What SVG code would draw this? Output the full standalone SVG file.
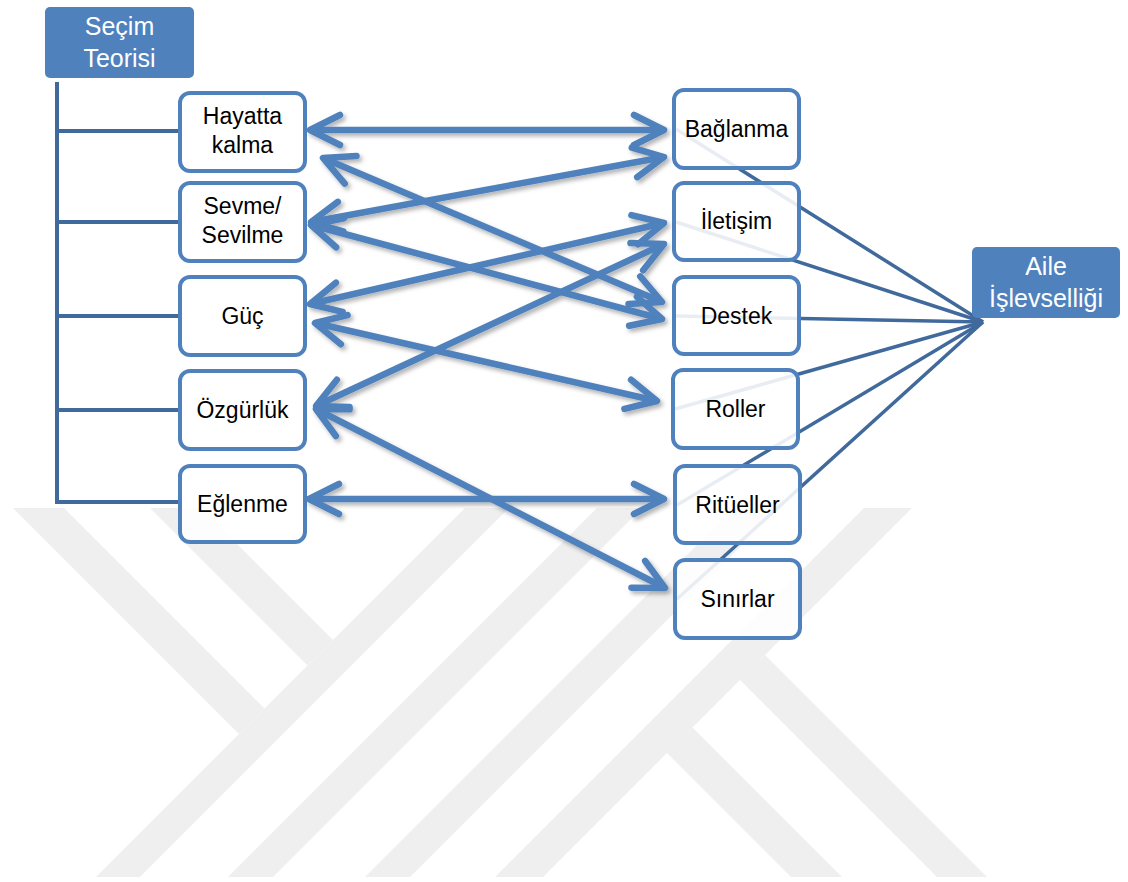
<svg xmlns="http://www.w3.org/2000/svg" width="1128" height="882" viewBox="0 0 1128 882">
  <style>
    .wm { fill: #efefef; }
    .box { fill: #ffffff; fill-opacity: 0.88; stroke: #4f81bd; stroke-width: 4; }
    .hdr { fill: #4f81bd; }
    .t { font-family: "Liberation Sans", Arial, sans-serif; font-size: 23px; fill: #000000; text-anchor: middle; }
    .th { font-family: "Liberation Sans", Arial, sans-serif; font-size: 25px; fill: #ffffff; text-anchor: middle; }
    .tree { fill: none; stroke: #40699c; stroke-width: 4; }
    .link { fill: none; stroke: #40699c; stroke-width: 3.5; }
    .arr { fill: none; stroke: #4f81bd; stroke-width: 6.5; marker-start: url(#chev); marker-end: url(#chev); }
  </style>
  <defs>
    <marker id="chev" markerUnits="userSpaceOnUse" orient="auto-start-reverse" refX="0" refY="0" markerWidth="60" markerHeight="60" viewBox="-45 -30 60 60" overflow="visible">
      <path d="M -30,-15 L 0,0 L -30,15" fill="none" stroke="#4f81bd" stroke-width="6.5" stroke-linecap="round" stroke-linejoin="round"/>
    </marker>
    <filter id="sh" x="-10%" y="-10%" width="120%" height="130%">
      <feDropShadow dx="2.5" dy="3" stdDeviation="2" flood-color="#000000" flood-opacity="0.3"/>
    </filter>
  </defs>
  <rect width="1128" height="882" fill="#ffffff"/>

  <g id="watermark">
    <polygon class="wm" points="13,508 64,508 264.5,708.5 239,734"/>
    <polygon class="wm" points="150,508 201,508 333,640 307.5,665.5"/>
    <polygon class="wm" points="465,508 509,508 140,877 96,877"/>
    <polygon class="wm" points="597,508 642,508 273,877 228,877"/>
    <polygon class="wm" points="734,508 779,508 410,877 365,877"/>
    <polygon class="wm" points="864,508 912,508 543,877 495,877"/>
    <polygon class="wm" points="667,753 692.5,727.5 842,877 791,877"/>
    <polygon class="wm" points="740,680 765,655 987,877 937,877"/>
  </g>

  <g id="connectors-tree">
    <path class="tree" d="M57,82 V502 H180 M57,131 H180 M57,222 H180 M57,316 H180 M57,410 H180"/>
  </g>

  <g id="connectors-aile">
    <line class="link" x1="983" y1="322" x2="676" y2="129"/>
    <line class="link" x1="983" y1="322" x2="676" y2="222"/>
    <line class="link" x1="983" y1="322" x2="676" y2="316"/>
    <line class="link" x1="983" y1="322" x2="675" y2="409"/>
    <line class="link" x1="983" y1="322" x2="677" y2="505"/>
    <line class="link" x1="983" y1="322" x2="677" y2="599"/>
  </g>

  <g id="n-secim">
    <rect class="hdr" x="45" y="7" width="149" height="71" rx="5"/>
    <text class="th" x="119.5" y="35">Seçim</text>
    <text class="th" x="119.5" y="67">Teorisi</text>
  </g>
  <g id="n-aile">
    <rect class="hdr" x="972" y="247" width="148" height="71" rx="5"/>
    <text class="th" x="1046" y="275">Aile</text>
    <text class="th" x="1046" y="307">İşlevselliği</text>
  </g>

  <g id="n-hayatta">
    <rect class="box" x="180" y="93" width="125" height="78" rx="10"/>
    <text class="t" x="242.5" y="124">Hayatta</text>
    <text class="t" x="242.5" y="153">kalma</text>
  </g>
  <g id="n-sevme">
    <rect class="box" x="180" y="183" width="125" height="78" rx="10"/>
    <text class="t" x="242.5" y="214">Sevme/</text>
    <text class="t" x="242.5" y="243">Sevilme</text>
  </g>
  <g id="n-guc">
    <rect class="box" x="180" y="277" width="125" height="78" rx="10"/>
    <text class="t" x="242.5" y="324">Güç</text>
  </g>
  <g id="n-ozgurluk">
    <rect class="box" x="180" y="371" width="125" height="78" rx="10"/>
    <text class="t" x="242.5" y="418">Özgürlük</text>
  </g>
  <g id="n-eglenme">
    <rect class="box" x="180" y="466" width="125" height="76" rx="10"/>
    <text class="t" x="242.5" y="512">Eğlenme</text>
  </g>

  <g id="n-baglanma">
    <rect class="box" x="674" y="90" width="125" height="78" rx="10"/>
    <text class="t" x="736.5" y="137">Bağlanma</text>
  </g>
  <g id="n-iletisim">
    <rect class="box" x="674" y="183" width="125" height="77" rx="10"/>
    <text class="t" x="736.5" y="229">İletişim</text>
  </g>
  <g id="n-destek">
    <rect class="box" x="674" y="277" width="125" height="77" rx="10"/>
    <text class="t" x="736.5" y="324">Destek</text>
  </g>
  <g id="n-roller">
    <rect class="box" x="673" y="370" width="125" height="78" rx="10"/>
    <text class="t" x="735.5" y="417">Roller</text>
  </g>
  <g id="n-rituller">
    <rect class="box" x="675" y="466" width="125" height="77" rx="10"/>
    <text class="t" x="737.5" y="513">Ritüeller</text>
  </g>
  <g id="n-sinirlar">
    <rect class="box" x="675" y="560" width="125" height="78" rx="10"/>
    <text class="t" x="737.5" y="607">Sınırlar</text>
  </g>

  <g id="connectors-arrows" filter="url(#sh)">
    <line class="arr" x1="310" y1="130" x2="664" y2="130"/>
    <line class="arr" x1="323" y1="158" x2="662" y2="302"/>
    <line class="arr" x1="311" y1="222" x2="664" y2="157"/>
    <line class="arr" x1="311" y1="225" x2="662" y2="319"/>
    <line class="arr" x1="310" y1="304" x2="664" y2="223"/>
    <line class="arr" x1="316" y1="406" x2="664" y2="244"/>
    <line class="arr" x1="315" y1="323" x2="657" y2="401"/>
    <line class="arr" x1="316" y1="409" x2="665" y2="588"/>
    <line class="arr" x1="309" y1="499" x2="664" y2="499"/>
  </g>
</svg>
